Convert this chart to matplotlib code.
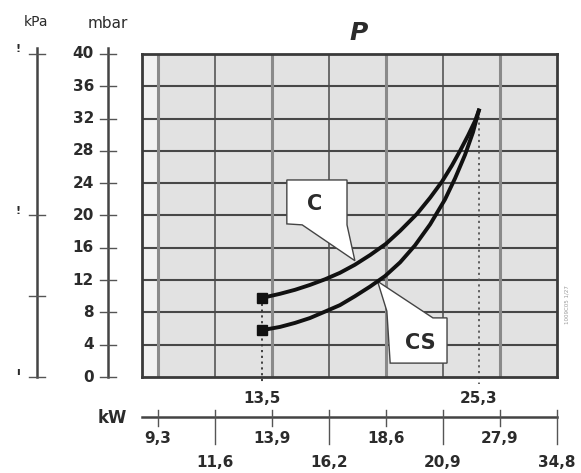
import numpy as np
import matplotlib
matplotlib.use("Agg")
import matplotlib.pyplot as plt
from matplotlib.patches import Polygon
from matplotlib.transforms import blended_transform_factory

# kW scale: the labelled ticks sit evenly on the chart, their values do not
kw_ticks = [9.3, 11.6, 13.9, 16.2, 18.6, 20.9, 27.9, 34.8]
kw_upper = [9.3, 13.9, 18.6, 27.9]      # first label row
kw_lower = [11.6, 16.2, 20.9, 34.8]     # second label row
kw_marks = [13.5, 25.3]                 # min / max power

mbar_ticks = list(range(0, 41, 4))
kpa_ticks = [0, 1, 2, 4]
kpa_labels = ["ı", "", "!", "!"]        # cut off at the image edge

# pressure curves (kW, mbar)
c_kw = [13.5, 14.22, 14.83, 15.43, 16.04, 16.66, 17.29, 17.93, 18.6, 19.17,
        19.85, 20.38, 20.86, 22.0, 22.99, 23.97, 24.83, 25.3]
c_mbar = [9.8, 10.3, 10.8, 11.4, 12.1, 12.9, 13.9, 15.1, 16.5, 18.1,
          20.2, 22.2, 24.2, 26.2, 28.0, 29.9, 31.7, 33.0]
cs_kw = [13.5, 14.22, 14.83, 15.43, 16.04, 16.66, 17.29, 17.93, 18.56, 19.17,
         19.77, 20.38, 21.15, 22.38, 23.6, 24.58, 25.3]
cs_mbar = [5.8, 6.2, 6.7, 7.3, 8.1, 8.9, 10.0, 11.2, 12.5, 14.2,
           16.3, 18.9, 22.0, 24.6, 27.5, 30.3, 33.0]

W, H = 581, 473
DARK = "#2b2b2b"
FONT = dict(fontfamily="DejaVu Sans", fontweight="bold", color=DARK)

pos = np.arange(len(kw_ticks) + 2)
kw_ext = np.r_[2 * kw_ticks[0] - kw_ticks[1], kw_ticks, 2 * kw_ticks[-1] - kw_ticks[-2]]


def fwd(x):
    return np.interp(x, kw_ext, pos)


def inv(p):
    return np.interp(p, pos, kw_ext)


fig = plt.figure(figsize=(W / 100, H / 100), dpi=100)
ax = fig.add_axes([142 / W, (H - 377) / H, 415 / W, 323 / H])
ax.set_xscale("function", functions=(fwd, inv))
x_left = float(inv(1 - 16 / 57))
ax.set_xlim(x_left, kw_ticks[-1])
ax.set_ylim(0, 40)
ax.set_xticks([])
ax.set_yticks([])
ax.set_facecolor("#e2e2e2")
ax.axvspan(x_left, kw_ticks[0], color="#f1f1f1", zorder=0)
for s in ax.spines.values():
    s.set_color("#3a3a3a")
    s.set_linewidth(2)

# grid
for m in mbar_ticks[1:-1]:
    ax.axhline(m, color="#474747", lw=1.5, zorder=1)
for k in kw_upper:
    ax.axvline(k, color="#8a8a8a", lw=2.2, zorder=1)
for k in kw_lower[:-1]:
    ax.axvline(k, color="#4a4a4a", lw=1.1, zorder=1)

# dotted markers of min / max power
ax.plot([kw_marks[0]] * 2, [c_mbar[0], -0.9], ls=(0, (1.2, 2)), color="#333333",
        lw=1.3, clip_on=False, zorder=2)
ax.plot([kw_marks[1]] * 2, [c_mbar[-1], -0.9], ls=(0, (1.2, 2)), color="#555555",
        lw=1.3, clip_on=False, zorder=2)
for k in kw_marks:
    ax.text(k, -2.7, f"{k}".replace(".", ","), ha="center", va="center", fontsize=11, **FONT)

# callout boxes, pointing at the curves
to_axes = lambda x, y: ax.transAxes.inverted().transform(ax.transData.transform((x, y)))
c_tip = to_axes(c_kw[6], c_mbar[6] + 0.5)
cs_tip = (to_axes(cs_kw[7], cs_mbar[7]) + to_axes(cs_kw[8], cs_mbar[8])) / 2
c_box = [(0.349, 0.610), (0.494, 0.610), (0.494, 0.471), tuple(c_tip), (0.386, 0.471), (0.349, 0.474)]
cs_box = [tuple(cs_tip), (0.701, 0.183), (0.735, 0.183), (0.735, 0.043), (0.598, 0.043), (0.590, 0.204)]
for pts in (c_box, cs_box):
    ax.add_patch(Polygon(pts, closed=True, transform=ax.transAxes, facecolor="white",
                         edgecolor="#444444", lw=1.0, zorder=3))
ax.text(0.417, 0.536, "C", transform=ax.transAxes, ha="center", va="center", fontsize=15, zorder=4, **FONT)
ax.text(0.670, 0.105, "CS", transform=ax.transAxes, ha="center", va="center", fontsize=15, zorder=4, **FONT)

# curves
for xs, ys in ((c_kw, c_mbar), (cs_kw, cs_mbar)):
    ax.plot(xs, ys, color="#111111", lw=2.8, solid_joinstyle="round", zorder=5)
    ax.plot(xs[0], ys[0], marker="s", ms=7.5, color="#111111", zorder=6)

# left scales: mbar and kPa
tl = blended_transform_factory(fig.transFigure, ax.transData)
for xa, ticks, factor in ((108, mbar_ticks, 1), (37, kpa_ticks, 10)):
    ax.plot([xa / W] * 2, [0, 40.8], transform=tl, color="#444444", lw=1.8, clip_on=False)
    for t in ticks:
        ax.plot([(xa - 8) / W, (xa + 8) / W], [t * factor] * 2, transform=tl,
                color="#555555", lw=1.0, clip_on=False)
for m in mbar_ticks:
    ax.text(94 / W, m, str(m), transform=tl, ha="right", va="center", fontsize=11, **FONT)
for t, lab in zip(kpa_ticks, kpa_labels):
    ax.text(18 / W, t * 10 + 0.6, lab, transform=tl, ha="center", va="center", fontsize=8, **FONT)
fig.text(36 / W, 1 - 22 / H, "kPa", ha="center", va="center", fontsize=10, color=DARK)
fig.text(108 / W, 1 - 23 / H, "mbar", ha="center", va="center", fontsize=11, color=DARK)

# kW scale under the chart
tb = blended_transform_factory(ax.transData, fig.transFigure)
y_axis = 1 - 417 / H
ax.plot([x_left, kw_ticks[-1]], [y_axis] * 2, transform=tb, color="#444444", lw=1.8, clip_on=False)
for k in kw_upper:
    ax.plot([k, k], [1 - 410 / H, 1 - 426 / H], transform=tb, color="#555555", lw=1.0, clip_on=False)
    ax.text(k, 1 - 438 / H, f"{k}".replace(".", ","), transform=tb, ha="center", va="center",
            fontsize=11, **FONT)
for k in kw_lower:
    ax.plot([k, k], [1 - 410 / H, 1 - 444 / H], transform=tb, color="#555555", lw=1.0, clip_on=False)
    ax.text(k, 1 - 462 / H, f"{k}".replace(".", ","), transform=tb, ha="center", va="center",
            fontsize=11, **FONT)
fig.text(112 / W, 1 - 418 / H, "kW", ha="center", va="center", fontsize=12, **FONT)

fig.text(359 / W, 1 - 33 / H, "P", ha="center", va="center", fontsize=18, fontstyle="italic", **FONT)
fig.text(567 / W, 1 - 305 / H, "1009C05 1/27", ha="center", va="center", rotation=90,
         fontsize=4, color="#999999")

fig.savefig("out.png", dpi=100)
